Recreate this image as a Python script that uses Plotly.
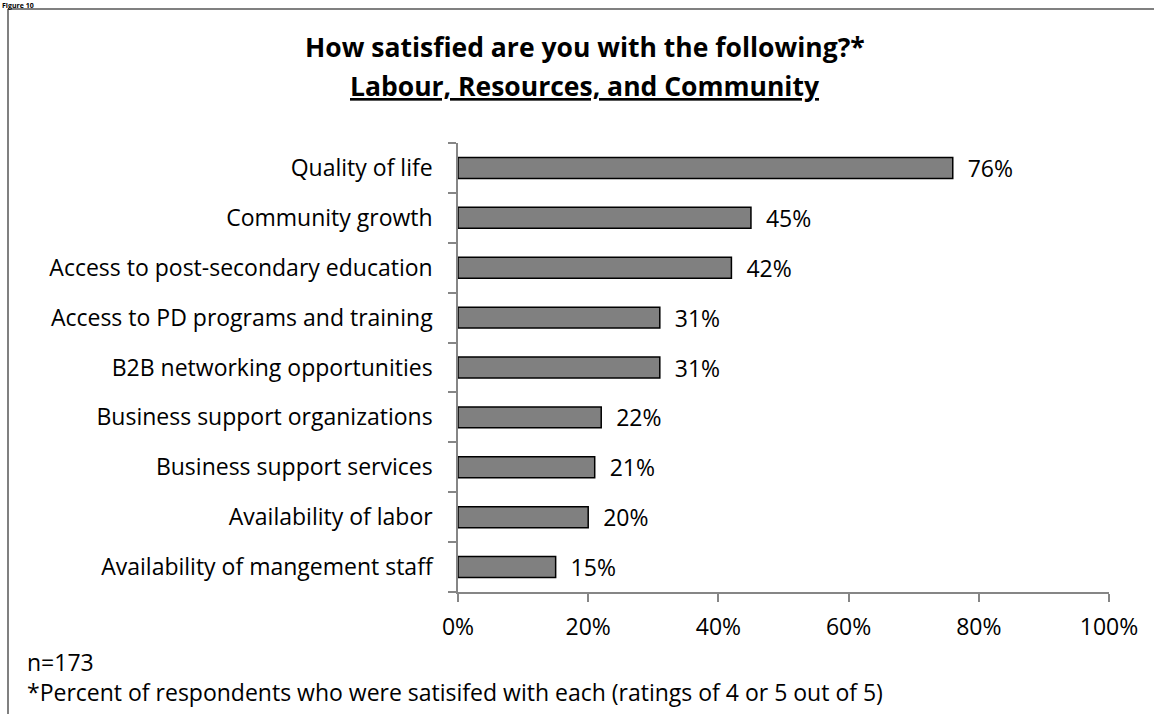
import plotly.graph_objects as go

# Survey items, top to bottom as displayed
categories = [
    "Quality of life",
    "Community growth",
    "Access to post-secondary education",
    "Access to PD programs and training",
    "B2B networking opportunities",
    "Business support organizations",
    "Business support services",
    "Availability of labor",
    "Availability of mangement staff",
]
satisfied_pct = [76, 45, 42, 31, 31, 22, 21, 20, 15]
x_ticks = [0, 20, 40, 60, 80, 100]
x_tick_labels = ["0%", "20%", "40%", "60%", "80%", "100%"]

W, H = 1154, 714
ML, MR, MT, MB = 458, 45, 143, 122
PW, PH = W - ML - MR, H - MT - MB

FONT = "Open Sans"
SIZE = 23
GRAY = "#868686"


def px_x(px):
    return (px - ML) / PW


def px_y(py):
    return (H - MB - py) / PH


fig = go.Figure(
    go.Bar(
        y=categories,
        x=satisfied_pct,
        orientation="h",
        marker=dict(color="#808080", line=dict(color="#000000", width=1.5)),
        text=[f"{v}%" for v in satisfied_pct],
        textposition="outside",
        texttemplate="  %{text}",
        textfont=dict(family=FONT, size=SIZE, color="#000000"),
        constraintext="none",
        cliponaxis=False,
        hoverinfo="skip",
    )
)

fig.update_layout(
    width=W,
    height=H,
    margin=dict(l=ML, r=MR, t=MT, b=MB, pad=0),
    paper_bgcolor="white",
    plot_bgcolor="white",
    bargap=0.58,
    showlegend=False,
    font=dict(family=FONT, size=SIZE, color="#000000"),
    xaxis=dict(
        range=[0, 100],
        tickvals=x_ticks,
        ticktext=x_tick_labels,
        showgrid=False,
        zeroline=False,
        showline=True,
        linecolor=GRAY,
        linewidth=1.5,
        ticks="outside",
        ticklen=8,
        tickcolor=GRAY,
        tickwidth=1.5,
        tickfont=dict(family=FONT, size=SIZE),
        ticklabelstandoff=6,
        fixedrange=True,
    ),
    yaxis=dict(
        categoryorder="array",
        categoryarray=categories[::-1],
        autorange=True,
        showgrid=False,
        zeroline=False,
        showline=True,
        linecolor=GRAY,
        linewidth=1.5,
        ticks="outside",
        tickson="boundaries",
        ticklen=8,
        tickcolor=GRAY,
        tickwidth=1.5,
        tickfont=dict(family=FONT, size=SIZE),
        ticklabelstandoff=19,
        fixedrange=True,
    ),
)

# Chart title, two lines with the second underlined
fig.add_annotation(text="<b>How satisfied are you with the following?*</b>",
                   xref="paper", yref="paper", x=px_x(585), y=px_y(47),
                   xanchor="center", yanchor="middle", showarrow=False,
                   font=dict(family=FONT, size=26.5, color="#000000"))
fig.add_annotation(text="<b><u>Labour, Resources, and Community</u></b>",
                   xref="paper", yref="paper", x=px_x(585), y=px_y(86),
                   xanchor="center", yanchor="middle", showarrow=False,
                   font=dict(family=FONT, size=26.5, color="#000000"))

# Frame lines along the top and left edges of the figure panel
fig.add_shape(type="line", xref="paper", yref="paper",
              x0=px_x(8), x1=px_x(W + 5), y0=px_y(9), y1=px_y(9),
              line=dict(color="#808080", width=2))
fig.add_shape(type="line", xref="paper", yref="paper",
              x0=px_x(8), x1=px_x(8), y0=px_y(9), y1=px_y(H + 5),
              line=dict(color="#808080", width=2))

# Figure caption above the frame
fig.add_annotation(text="<b>Figure 10</b>", xref="paper", yref="paper",
                   x=px_x(1), y=px_y(0), xanchor="left", yanchor="top",
                   showarrow=False, font=dict(family=FONT, size=7, color="#000000"),
                   borderpad=0)

# Footnotes
fig.add_annotation(text="n=173", xref="paper", yref="paper",
                   x=px_x(25), y=px_y(662), xanchor="left", yanchor="middle",
                   showarrow=False, font=dict(family=FONT, size=SIZE))
fig.add_annotation(text="*Percent of respondents who were satisifed with each (ratings of 4 or 5 out of 5)",
                   xref="paper", yref="paper",
                   x=px_x(25), y=px_y(692), xanchor="left", yanchor="middle",
                   showarrow=False, font=dict(family=FONT, size=SIZE))

fig.write_html("out.html")
